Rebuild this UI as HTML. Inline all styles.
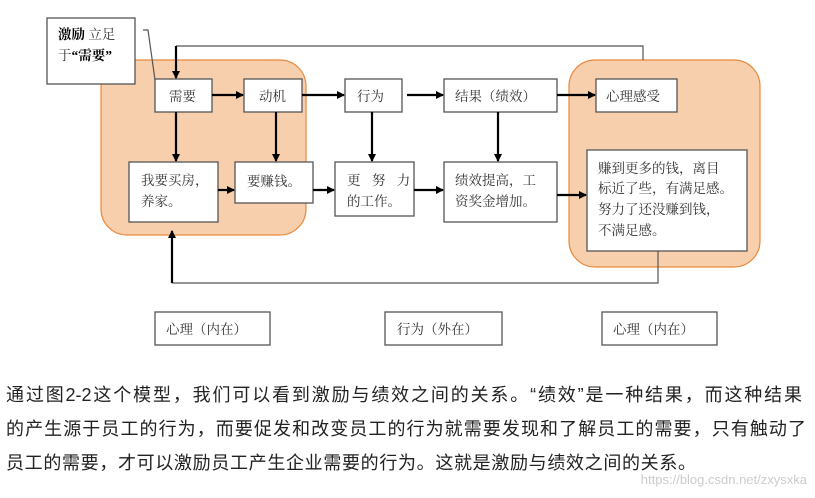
<!DOCTYPE html>
<html><head><meta charset="utf-8"><style>
body{margin:0;width:815px;height:498px;background:#fff;overflow:hidden;position:relative;font-family:"Liberation Serif","Noto Serif CJK SC",serif}
svg{position:absolute;left:0;top:0}
.p{position:absolute;left:6px;font-family:"Liberation Sans","Noto Sans CJK SC",sans-serif;font-size:18px;line-height:24px;color:#222;white-space:nowrap;letter-spacing:0;text-align:justify;text-align-last:justify;text-justify:inter-character}
.wm{position:absolute;right:8px;top:472px;font-family:"Liberation Sans",sans-serif;font-size:13px;color:#ccc}
</style></head><body>
<svg width="815" height="360" viewBox="0 0 815 360">
<defs><marker id="a" markerWidth="8" markerHeight="8" refX="7" refY="4" orient="auto" markerUnits="userSpaceOnUse"><path d="M0,0L8,4L0,8z" fill="#000"/></marker></defs>
<rect x="101" y="60" width="205" height="175" rx="26" fill="#f8cfac" stroke="#e8883a" stroke-width="1.2"/>
<rect x="569" y="60" width="191" height="207" rx="26" fill="#f8cfac" stroke="#e8883a" stroke-width="1.2"/>
<g fill="#fff" stroke="#555" stroke-width="1.3">
<rect x="47" y="18" width="88" height="66"/>
<rect x="155" y="79" width="57" height="33"/>
<rect x="244" y="79" width="58" height="33"/>
<rect x="345" y="79" width="57" height="33"/>
<rect x="444" y="79" width="113" height="33"/>
<rect x="596" y="79" width="81" height="33"/>
<rect x="129" y="162" width="89" height="60"/>
<rect x="235" y="162" width="78" height="41"/>
<rect x="335" y="162" width="79" height="54"/>
<rect x="444" y="162" width="113" height="60"/>
<rect x="587" y="150" width="160" height="101"/>
<rect x="155" y="312" width="115" height="33"/>
<rect x="385" y="312" width="117" height="33"/>
<rect x="602" y="312" width="115" height="33"/>
</g>
<g fill="none" stroke="#555" stroke-width="1.2">
<path d="M643,60V46H176"/>
<path d="M658,251V283H172"/>
<path d="M143,30H148L155,80"/>
</g>
<g stroke="#000" stroke-width="2.2" fill="none" marker-end="url(#a)">
<path d="M176,46V78"/>
<path d="M212,95H243"/>
<path d="M302,95H344"/>
<path d="M407,95H443"/>
<path d="M557,95H595"/>
<path d="M176,112V161"/>
<path d="M276,112V161"/>
<path d="M372,112V161"/>
<path d="M498,112V161"/>
<path d="M218,190H234"/>
<path d="M313,190H334"/>
<path d="M414,190H443"/>
<path d="M557,195H586"/>
<path d="M172,283V231"/>
</g>
<g font-size="13.5" fill="#333" font-family="Liberation Serif,Noto Serif CJK SC,serif">
<text x="58" y="39"><tspan font-weight="bold" fill="#000">激励</tspan> 立足</text>
<text x="58" y="60">于<tspan font-weight="bold" fill="#000">“需要”</tspan></text>
<text x="169" y="101">需要</text>
<text x="259" y="101">动机</text>
<text x="357" y="101">行为</text>
<text x="455" y="101">结果（绩效）</text>
<text x="606" y="101">心理感受</text>
<text x="141" y="185">我要买房，</text>
<text x="141" y="206">养家。</text>
<text x="247" y="186">要赚钱。</text>
<text x="347" y="185" letter-spacing="4">更 努 力</text>
<text x="347" y="206">的工作。</text>
<text x="455" y="185">绩效提高，工</text>
<text x="455" y="206">资奖金增加。</text>
<text x="598" y="173">赚到更多的钱，离目</text>
<text x="598" y="193">标近了些，有满足感。</text>
<text x="598" y="214">努力了还没赚到钱，</text>
<text x="598" y="235">不满足感。</text>
<text x="166" y="334">心理（内在）</text>
<text x="397" y="334">行为（外在）</text>
<text x="613" y="334">心理（内在）</text>
</g>
</svg>
<div class="p" style="top:383px;width:796px">通过图2-2这个模型，我们可以看到激励与绩效之间的关系。“绩效”是一种结果，而这种结果</div>
<div class="p" style="top:417px;width:800px">的产生源于员工的行为，而要促发和改变员工的行为就需要发现和了解员工的需要，只有触动了</div>
<div class="p" style="top:451px;width:690px">员工的需要，才可以激励员工产生企业需要的行为。这就是激励与绩效之间的关系。</div>
<div class="wm">https://blog.csdn.net/zxysxka</div>
</body></html>
